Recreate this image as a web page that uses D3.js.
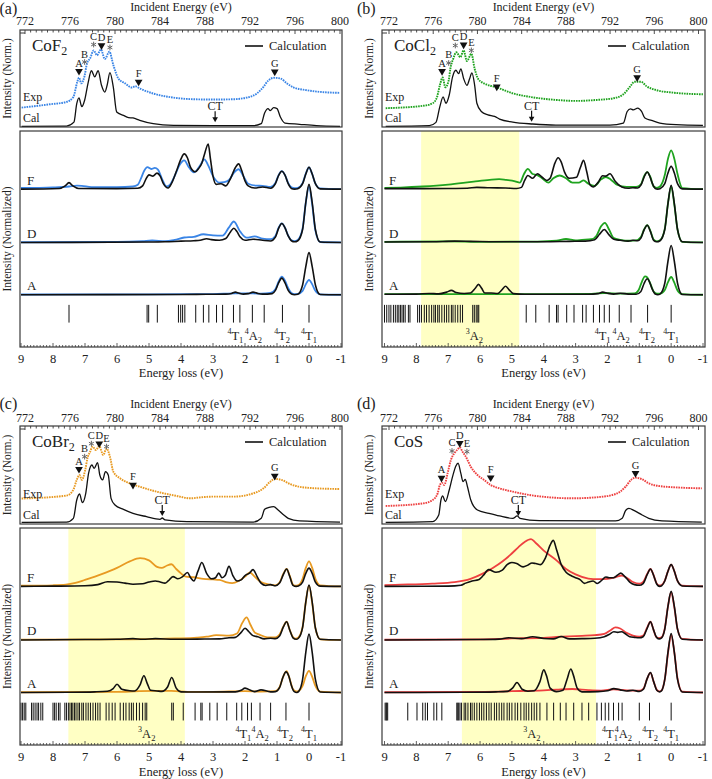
<!DOCTYPE html>
<html><head><meta charset="utf-8">
<script src="https://cdn.jsdelivr.net/npm/d3@7"></script>
<style>
body{margin:0;background:#fff}
svg{display:block}
text{font-family:"Liberation Serif","DejaVu Serif","Times New Roman",serif;fill:#222}
</style>
</head><body>
<svg id="chart" width="712" height="779" font-family="Liberation Serif, DejaVu Serif, serif"></svg>
<script>
// ---------- tick labels ----------
const incidentTicks = [772,776,780,784,788,792,796,800];
const lossTicks = [9,8,7,6,5,4,3,2,1,0,-1];

// ---------- (a) CoF2 ----------
const aTopExp = [[771.7,20],[774.2,23.4],[775.7,25.9],[776.3,31],[776.65,46.6],[776.8,51],[777.0,45],[777.3,53],[777.5,65],[777.8,71],[778.1,79],[778.4,74],[778.75,80],[779.1,70],[779.5,77.6],[779.85,64],[780.3,50],[780.9,45],[781.5,40.7],[781.8,42],[782.2,39.7],[783.4,34.5],[785.2,30.3],[787,28.6],[788.7,28.3],[790.5,28.6],[791.7,30.3],[792.6,34.5],[793.2,41.4],[793.6,47.6],[794.1,50.7],[794.7,50],[795.3,44.8],[795.9,40.7],[797,38],[798.2,36.2],[800,35.2]];
const aTopCal = [[771.7,0.7],[775.7,1],[776.35,5],[776.6,24],[776.8,30],[777.05,21],[777.3,27.6],[777.6,45],[777.9,58],[778.2,51.7],[778.5,58],[778.8,43],[779.1,36],[779.3,43],[779.55,56],[779.85,41],[780.15,15.5],[780.75,12],[781.2,9.7],[781.6,9.3],[782.2,6.9],[783.4,3.4],[785.2,1.7],[788.7,1.4],[792.3,1.4],[793,3.4],[793.3,14.5],[793.6,19],[793.8,17],[794.1,20],[794.4,19],[794.7,10.3],[795.1,4.1],[796.4,2.8],[797.9,1.4],[800,0.7]];
const aMarkers = [{l:'A',e:776.8,v:57.6,t:'tri'},{l:'B',e:777.3,v:67,t:'star'},{l:'C',e:778.1,v:85,t:'star'},{l:'D',e:778.8,v:84,t:'tri'},{l:'E',e:779.55,v:82,t:'star'},{l:'F',e:782.1,v:46.5,t:'tri'},{l:'G',e:794.2,v:57,t:'tri'}];
const aCT = [788.9,5];
const aAcal = [[-1,0],[-0.35,0.1],[-0.2,4.5],[-0.1,13],[0,19.5],[0.1,13],[0.2,4.5],[0.35,0.2],[0.45,0],[0.55,0.3],[0.65,2],[0.75,5.5],[0.85,7.7],[0.95,5.5],[1.05,2],[1.15,0.5],[1.3,0.3],[1.45,0.3],[1.6,0.6],[1.75,1.2],[1.9,0.5],[2.05,0.3],[2.2,0.8],[2.3,1.2],[2.42,0.6],[2.6,0.3],[3.2,0.2],[4,0.1],[9,0]];
const aAexp = [[-1,0],[-0.35,0.2],[-0.2,1.8],[-0.1,4.8],[0,6.9],[0.1,4.8],[0.2,1.8],[0.35,0.4],[0.45,0.3],[0.55,0.8],[0.65,3],[0.75,6.5],[0.85,8.4],[0.95,6],[1.05,2.5],[1.2,0.8],[1.5,0.5],[1.75,0.6],[2.3,0.6],[3,0.3],[5,0.2],[9,0.1]];
const aDcal = [[-1,0],[-0.35,0.2],[-0.2,6],[-0.1,18.5],[0,26.9],[0.1,18.5],[0.2,6],[0.35,0.8],[0.45,0.3],[0.55,0.8],[0.65,3],[0.75,6.8],[0.85,8.8],[0.95,6.5],[1.05,2.5],[1.2,0.7],[1.45,1],[1.75,1.5],[2.0,1],[2.15,2.5],[2.25,5],[2.35,6.6],[2.45,5],[2.6,1.8],[2.8,1],[3.05,1.3],[3.2,1.7],[3.4,1],[3.6,0.8],[4.0,0.6],[4.5,0.3],[5,0.2],[9,0]];
const aDexp = [[-1,0],[-0.35,0.2],[-0.2,5.5],[-0.1,17.5],[0,26],[0.1,18.5],[0.2,6.5],[0.35,1.2],[0.45,0.6],[0.55,1],[0.65,3.2],[0.75,6.8],[0.85,8.8],[0.95,6.8],[1.05,3],[1.2,1.5],[1.45,1.8],[1.7,2.8],[1.95,2.2],[2.15,5],[2.35,9.7],[2.5,7],[2.7,3.2],[3.0,3.3],[3.3,3.8],[3.6,2.6],[3.9,2.3],[4.2,1.2],[4.5,0.6],[4.9,0.9],[5.2,0.6],[6,0.2],[9,0.1]];
const aFcal = [[-1,0],[-0.35,0.1],[-0.2,2.5],[-0.1,7],[0,10.1],[0.1,7],[0.2,2.5],[0.35,0.2],[0.45,0],[0.55,0.3],[0.65,2.5],[0.75,6.5],[0.85,8.3],[0.95,6.3],[1.05,2.5],[1.2,0.4],[1.45,1],[1.7,0.5],[1.9,1.5],[2.0,3.8],[2.1,8.5],[2.2,11.7],[2.3,10],[2.45,5],[2.6,1.5],[2.75,2.5],[2.9,2.2],[3.0,6],[3.08,14],[3.15,20.9],[3.25,17],[3.35,12],[3.45,9.5],[3.55,8],[3.7,10],[3.8,14.5],[3.9,16.3],[4.0,14],[4.15,8],[4.3,2.5],[4.4,0.5],[4.55,2.5],[4.65,6],[4.75,7.4],[4.88,6],[5.0,6.6],[5.1,4.5],[5.2,1.5],[5.35,0.4],[6,0.2],[7.2,0.3],[7.38,1.5],[7.5,3],[7.62,1.5],[7.8,0.3],[9,0]];
const aFexp = [[-1,0],[-0.35,0.3],[-0.2,2.5],[-0.1,7],[0,10],[0.1,7.2],[0.2,2.8],[0.35,0.6],[0.45,0.4],[0.55,0.8],[0.65,2.8],[0.75,6.5],[0.85,8.3],[0.95,6.5],[1.05,2.8],[1.2,1],[1.45,1.5],[1.65,1.6],[1.9,2.5],[2.05,6],[2.2,9.2],[2.35,7.5],[2.5,4.2],[2.65,3.2],[2.8,3],[3.0,6],[3.15,11],[3.27,13.8],[3.4,11],[3.6,7.7],[3.75,10],[3.9,13.3],[4.05,11],[4.2,6],[4.35,2],[4.45,1.2],[4.6,5],[4.72,9],[4.82,9.8],[4.93,9.3],[5.05,10.2],[5.15,8.5],[5.25,5],[5.35,2],[5.5,1.2],[6,0.9],[6.8,0.9],[7.1,1.5],[7.25,1.6],[7.5,1.2],[8,0.8],[9,0.5]];
const aSticks = [7.5,5.06,5.01,4.74,4.08,4.01,3.95,3.88,3.54,3.3,3.13,2.89,2.7,2.36,2.16,1.77,1.4,0.83,0];
const aStickLabels = [{s:'4',m:'T',b:'1',x:2.3},{s:'4',m:'A',b:'2',x:1.74},{s:'4',m:'T',b:'2',x:0.84},{s:'4',m:'T',b:'1',x:0}];

// ---------- (b) CoCl2 ----------
const bTopExp = [[771.7,19.4],[775.05,21.8],[775.95,24.5],[776.35,31],[776.6,43],[776.85,51],[777.1,41],[777.4,48],[777.55,60],[777.8,70],[778.1,77],[778.45,72],[778.75,79],[779.05,68],[779.45,75.5],[779.75,60],[780.1,49],[780.8,44],[781.7,41],[783.2,34.7],[785,30.6],[787.1,27.9],[788.9,26.9],[790.8,27.9],[792.3,29.6],[793.2,33.7],[793.8,41.5],[794.2,46.6],[794.8,46.6],[795.3,42],[796.2,38],[797.7,35.4],[800.4,33.7]];
const bTopCal = [[771.7,0.7],[775.65,1.4],[776.25,4.8],[776.6,21],[776.9,31],[777.15,24.5],[777.45,33],[777.75,51.7],[778.05,58.5],[778.3,55],[778.5,60],[778.75,50],[779.05,43],[779.3,50],[779.5,55.8],[779.75,43],[779.95,24.5],[780.35,16],[780.95,12.6],[781.55,10.9],[782,8.2],[783.2,5.1],[785,3.1],[787.1,2],[792,2],[793.2,4.1],[793.55,16],[793.85,18.7],[794.1,17.7],[794.5,19.4],[794.85,16],[795.15,9.2],[795.75,6.8],[796.5,4.1],[798,2.4],[800.4,1.7]];
const bMarkers = [{l:'A',e:776.8,v:57.5,t:'tri'},{l:'B',e:777.4,v:66,t:'star'},{l:'C',e:778.0,v:84,t:'star'},{l:'D',e:778.75,v:84.7,t:'tri'},{l:'E',e:779.45,v:79,t:'star'},{l:'F',e:781.75,v:41.5,t:'tri'},{l:'G',e:794.45,v:51,t:'tri'}];
const bCT = [784.9,5.5];
const bAcal = [[-1,0],[-0.35,0.1],[-0.2,5.3],[-0.1,15.5],[0,22.8],[0.1,15.5],[0.2,5.3],[0.35,0.3],[0.42,0],[0.5,0.3],[0.6,2.8],[0.68,6],[0.75,7.4],[0.85,5.2],[0.95,1.5],[1.1,0.2],[1.35,0.3],[1.6,0.7],[1.8,0.3],[2.0,0.7],[2.15,1.2],[2.3,0.5],[2.6,0.2],[4.6,0.2],[4.95,0.5],[5.1,2.5],[5.2,3.9],[5.3,2.5],[5.45,0.6],[5.65,0.8],[5.85,0.8],[5.95,3],[6.05,4.8],[6.15,3],[6.3,0.8],[6.5,0.6],[6.75,1],[6.9,2],[7.05,1.2],[7.3,0.4],[7.6,0.6],[8,0.3],[9,0.2]];
const bAexp = [[-1,0],[-0.35,0.3],[-0.2,2],[-0.1,5.6],[0,8.2],[0.1,5.8],[0.2,2.2],[0.35,0.5],[0.45,0.5],[0.55,1.5],[0.65,5],[0.75,8],[0.82,8.5],[0.92,6],[1.02,2.2],[1.15,0.6],[1.6,0.5],[2.1,0.8],[2.5,0.4],[4,0.3],[9,0.3]];
const bDcal = [[-1,0],[-0.35,0.3],[-0.2,6],[-0.1,18],[0,26.5],[0.1,18],[0.2,6],[0.35,0.8],[0.45,0.3],[0.55,1],[0.65,5],[0.75,8],[0.85,5.8],[0.95,2],[1.05,0.8],[1.2,1],[1.35,0.6],[1.6,1],[1.8,1.5],[1.95,3.5],[2.1,6],[2.25,3.8],[2.4,1.3],[2.7,0.6],[3.2,0.5],[4,0.3],[5.5,0.3],[6.3,0.5],[6.8,0.6],[7.5,0.3],[9,0.2]];
const bDexp = [[-1,0],[-0.35,0.3],[-0.2,6],[-0.1,17.5],[0,26],[0.1,18],[0.2,6.3],[0.35,1],[0.45,0.5],[0.55,1.3],[0.65,5.3],[0.75,8],[0.85,6],[0.95,2.5],[1.1,1],[1.3,0.8],[1.6,1.2],[1.8,2],[1.95,6],[2.08,9.1],[2.2,7.5],[2.35,3],[2.5,1.5],[2.8,1.2],[3.0,1],[3.3,1.6],[3.6,0.8],[4.2,0.4],[6,0.3],[7,0.5],[9,0.3]];
const bFcal = [[-1,0],[-0.35,0.1],[-0.2,2.5],[-0.1,7.5],[0,10.5],[0.1,7.5],[0.2,2.5],[0.35,0.2],[0.42,0],[0.5,0.3],[0.6,3],[0.68,6.3],[0.75,7.9],[0.85,5.5],[0.95,1.8],[1.05,0.5],[1.2,0.6],[1.35,0.4],[1.55,1],[1.75,3.5],[1.92,7.1],[2.05,6],[2.15,6.2],[2.3,3],[2.45,1],[2.55,2],[2.65,8],[2.75,13.3],[2.85,10],[2.97,5.5],[3.2,5],[3.35,8],[3.45,12.5],[3.55,14.5],[3.65,12],[3.8,5],[3.9,4],[4.05,5.5],[4.2,7.1],[4.35,5],[4.5,6.3],[4.6,4],[4.7,0.8],[4.85,0.3],[5.2,0.5],[5.7,0.6],[6.1,0.8],[6.4,0.4],[7,0.3],[9,0.2]];
const bFexp = [[-1,0],[-0.35,0.5],[-0.2,7],[-0.1,14],[0,17.9],[0.1,14],[0.2,6.5],[0.35,1.2],[0.45,0.6],[0.55,1.2],[0.65,5.5],[0.75,7.9],[0.85,6],[0.95,2.2],[1.1,1],[1.4,1],[1.7,2],[1.9,4.5],[2.05,5.6],[2.2,4.5],[2.4,1.5],[2.6,2.5],[2.75,4],[2.9,3],[3.1,3],[3.3,5],[3.5,6.3],[3.7,5],[3.85,3],[4.05,5],[4.2,6.5],[4.35,7],[4.5,9.4],[4.62,7],[4.75,3],[4.9,3.6],[5.2,4.3],[5.4,4.6],[5.7,4.3],[6.2,3.5],[7,2.1],[7.8,1.2],[8.5,0.7],[9,0.5]];
const bSticks = [9.0,8.93,8.86,8.8,8.72,8.66,8.6,8.55,8.5,8.45,8.4,8.35,8.25,8.2,7.96,7.9,7.84,7.75,7.68,7.6,7.52,7.45,7.4,7.33,7.28,7.2,7.12,7.05,6.98,6.9,6.85,6.78,6.7,6.62,6.55,6.23,6.18,6.12,6.07,6.04,4.55,4.25,3.83,3.6,3.55,3.28,3.05,2.78,2.67,2.44,2.25,2.1,1.94,1.63,1.26,0.74,0];
const bStickLabels = [{s:'3',m:'A',b:'2',x:6.18},{s:'4',m:'T',b:'1',x:2.15},{s:'4',m:'A',b:'2',x:1.57},{s:'4',m:'T',b:'2',x:0.76},{s:'4',m:'T',b:'1',x:0}];
const bShade = [4.77,7.85];

// ---------- (c) CoBr2 ----------
const cTopExp = [[771.7,26],[775.7,29],[776.3,35],[776.6,45],[776.85,50],[777.05,45],[777.35,55],[777.55,67],[777.8,74],[778.0,79],[778.3,75.5],[778.6,79.6],[778.95,70.4],[779.25,77],[779.55,68.7],[779.85,53.4],[780.45,46.6],[781.3,41.5],[782.2,38],[783.7,33],[785.5,28.6],[786.7,26.2],[787.6,27.2],[788.7,27.9],[790.5,27.9],[792.3,31.3],[793.2,36.4],[793.8,43.2],[794.2,46],[794.8,45],[795.55,40.8],[796.4,38],[797.9,36.4],[800,35.7]];
const cTopCal = [[771.7,1.7],[775.7,2],[776.3,5.8],[776.6,24.5],[776.85,30.6],[777.1,21.8],[777.4,31.3],[777.65,51.7],[777.95,60.2],[778.15,56.8],[778.45,62.6],[778.65,50],[778.9,45],[779.15,53.4],[779.4,50],[779.65,26.2],[780,19.4],[780.75,15],[781.6,10.9],[782.8,7.5],[784,4.8],[784.2,6.1],[784.45,4.1],[786.4,2.4],[792.3,2],[793,5.8],[793.3,15],[793.7,17],[794.1,17.7],[794.5,14.3],[795,9.2],[795.4,5.8],[796.4,3.1],[800,2]];
const cMarkers = [{l:'A',e:776.8,v:56,t:'tri'},{l:'B',e:777.3,v:68.7,t:'star'},{l:'C',e:777.9,v:82,t:'star'},{l:'D',e:778.6,v:82,t:'tri'},{l:'E',e:779.25,v:79,t:'star'},{l:'F',e:781.6,v:39.8,t:'tri'},{l:'G',e:794.2,v:49,t:'tri'}];
const cCT = [784.2,8.2];
const cAcal = [[-1,0],[-0.35,0.2],[-0.2,6],[-0.1,18.5],[0,26.9],[0.1,18.5],[0.2,6],[0.32,0.5],[0.38,0],[0.47,0.5],[0.55,3.2],[0.63,7.5],[0.72,9.5],[0.82,6.8],[0.92,2.2],[1.05,0.4],[1.2,0.3],[1.5,1.2],[1.7,0.4],[1.9,1.5],[2.0,2],[2.12,1],[2.3,0.3],[3.5,0.2],[4.0,0.3],[4.15,2],[4.29,6.9],[4.42,2.5],[4.6,0.5],[4.75,0.7],[4.95,1],[5.05,4],[5.16,7.7],[5.28,3.5],[5.45,0.7],[5.6,0.8],[5.85,1.5],[6.0,3.8],[6.12,1.8],[6.3,0.6],[6.7,0.3],[7.5,0.1],[9,0]];
const cAexp = [[-1,0],[-0.35,0.4],[-0.2,3],[-0.1,7.2],[0,10],[0.1,7.5],[0.2,3],[0.32,0.8],[0.4,0.5],[0.5,1.5],[0.6,6],[0.7,9.8],[0.8,7.5],[0.92,2.5],[1.05,0.6],[1.5,0.4],[2.0,0.6],[3,0.3],[3.8,0.3],[4.3,0.7],[4.8,0.7],[5.3,0.6],[6,0.3],[9,0.1]];
const cDcal = [[-1,0],[-0.35,0.3],[-0.2,5.5],[-0.1,17.5],[0,25.3],[0.1,17.5],[0.2,5.8],[0.33,0.8],[0.4,0.3],[0.5,1],[0.6,4.5],[0.7,8.4],[0.8,6],[0.92,1.8],[1.05,0.6],[1.2,0.8],[1.4,0.5],[1.6,1.5],[1.75,2],[1.88,3.8],[2.0,5.4],[2.12,3.5],[2.3,1.2],[2.5,1],[2.8,0.5],[3.5,0.4],[4.2,0.3],[4.8,0.6],[5.2,0.3],[5.5,0.6],[6,0.3],[7,0.2],[9,0]];
const cDexp = [[-1,0],[-0.35,0.3],[-0.2,5.5],[-0.1,17],[0,25],[0.1,17.5],[0.2,6],[0.33,1.2],[0.42,0.6],[0.5,1.3],[0.6,4.5],[0.7,8.4],[0.8,6.2],[0.92,2.5],[1.05,1.2],[1.3,1.2],[1.55,2.5],[1.7,3.5],[1.83,7],[1.95,10.4],[2.08,8],[2.25,3],[2.5,2],[2.9,2.2],[3.2,1.5],[3.5,1.1],[4.2,0.7],[5,0.4],[6,0.3],[9,0.2]];
const cFcal = [[-1,0],[-0.35,0.1],[-0.2,2],[-0.1,6],[0,8.4],[0.1,6],[0.2,2],[0.33,0.2],[0.4,0],[0.5,0.5],[0.6,4.5],[0.7,8],[0.8,5.5],[0.92,1.5],[1.05,0.3],[1.2,0.8],[1.35,0.4],[1.5,1.5],[1.62,4.5],[1.75,7.7],[1.87,6],[2.0,5],[2.12,3],[2.25,2.5],[2.38,5],[2.5,9.2],[2.62,5],[2.72,4],[2.82,6.1],[2.92,4],[3.05,3.5],[3.2,6],[3.35,11],[3.47,7],[3.6,2.5],[3.7,4],[3.8,6.4],[3.95,4.5],[4.1,3.5],[4.25,4.5],[4.4,2.5],[4.5,1.5],[4.65,2],[4.8,2.5],[5.0,2],[5.2,1.2],[5.5,1],[5.75,1.5],[6.0,2],[6.3,2.1],[6.6,0.8],[7,0.3],[8,0.1],[9,0]];
const cFexp = [[-1,0],[-0.35,0.5],[-0.2,3.5],[-0.1,8.5],[0,11.5],[0.1,8.5],[0.2,3.5],[0.33,0.6],[0.42,0.3],[0.5,0.8],[0.6,4.8],[0.7,8],[0.8,5.8],[0.92,1.8],[1.05,0.5],[1.3,1],[1.5,2],[1.7,4.5],[1.85,6.4],[2.0,4.5],[2.2,2.5],[2.4,1.5],[2.6,2],[2.8,3],[3.0,3.2],[3.3,3.5],[3.6,4.2],[3.85,4.5],[4.0,6],[4.15,8],[4.3,10.2],[4.45,9.5],[4.6,8.5],[4.75,9],[5.0,12],[5.28,13],[5.6,11.5],[6.0,8.5],[6.5,5.5],[7.0,3],[7.3,1.6],[7.6,0.8],[8,0.5],[9,0.3]];
const cSticks = [9.0,8.95,8.9,8.85,8.67,8.62,8.56,8.5,8.45,8.38,8.32,8.0,7.95,7.9,7.83,7.78,7.63,7.58,7.52,7.47,7.42,7.38,7.33,7.28,7.22,7.17,7.1,7.05,6.97,6.9,6.83,6.75,6.67,6.6,6.53,6.34,6.25,6.15,6.06,5.9,5.8,5.72,5.62,5.55,5.49,5.39,5.3,5.2,5.12,5.07,4.29,4.24,3.93,3.56,3.38,3.34,3.1,2.87,2.57,2.26,2.1,1.92,1.8,1.53,1.2,0.72,0];
const cStickLabels = [{s:'3',m:'A',b:'2',x:5.07},{s:'4',m:'T',b:'1',x:2.05},{s:'4',m:'A',b:'2',x:1.53},{s:'4',m:'T',b:'2',x:0.75},{s:'4',m:'T',b:'1',x:0}];
const cShade = [3.88,7.52];

// ---------- (d) CoS ----------
const dTopExp = [[771.7,18.4],[775.05,21],[775.95,24.5],[776.4,31.3],[776.6,39.8],[776.8,42],[777,39.8],[777.3,51.7],[777.6,65.3],[777.9,72],[778.2,76],[778.4,78.2],[778.65,73.8],[778.95,68.7],[779.4,58.5],[780,50],[780.6,45],[781.2,39.8],[782,36.4],[783.2,33],[784.7,29.6],[786.5,27.2],[788.6,26.2],[790.7,27.2],[792.5,30.6],[793.4,38],[793.9,45],[794.3,47.3],[794.9,45.6],[795.5,41.5],[796.4,38.8],[797.9,37.4],[800.3,36.4]];
const dTopCal = [[771.7,1.7],[775.95,2.4],[776.5,9.2],[776.7,24.5],[776.85,28.6],[777.1,22.8],[777.45,34.7],[777.75,48.3],[778.05,59.2],[778.25,62],[778.5,51.7],[778.7,43.2],[778.9,45.6],[779.1,38],[779.4,24.5],[780,14.3],[781.05,10.9],[782,8.2],[783.2,5.8],[783.6,8.2],[783.85,5.8],[785.6,3.4],[792.5,3.1],[793.1,5.8],[793.4,13.6],[793.7,16],[794.2,13.6],[794.9,9.2],[795.5,5.8],[796.7,3.1],[800.3,2]];
const dMarkers = [{l:'A',e:776.75,v:47,t:'tri'},{l:'C',e:777.7,v:74.5,t:'star'},{l:'D',e:778.4,v:82.3,t:'tri'},{l:'E',e:779.05,v:73.8,t:'star'},{l:'F',e:781.2,v:47.3,t:'tri'},{l:'G',e:794.3,v:51.7,t:'tri'}];
const dCT = [783.7,8.2];
const dAcal = [[-1,0],[-0.35,0.2],[-0.2,6],[-0.1,18.5],[0,27.2],[0.1,18.5],[0.2,6],[0.3,0.8],[0.36,0.3],[0.45,1],[0.55,5],[0.65,9.2],[0.75,6.5],[0.87,1.5],[1.0,0.5],[1.2,1],[1.4,0.7],[1.6,1.2],[1.8,1.8],[2.0,0.8],[2.3,0.4],[2.8,0.3],[2.95,2],[3.07,8],[3.15,10.8],[3.27,6],[3.4,1],[3.6,0.4],[3.8,2],[3.92,8],[4.0,10.4],[4.12,5],[4.3,0.8],[4.5,0.6],[4.68,1.5],[4.84,4.6],[4.98,2],[5.15,0.5],[5.5,0.3],[6.5,0.1],[9,0]];
const dAexp = [[-1,0],[-0.35,0.4],[-0.2,6.5],[-0.1,18.5],[0,26.5],[0.1,18],[0.2,6],[0.3,1],[0.38,0.5],[0.45,1.2],[0.55,5],[0.65,9],[0.75,6.5],[0.87,1.8],[1.0,0.8],[1.4,1],[1.8,1.5],[2.2,0.9],[2.6,1.1],[3.1,1.6],[3.6,1.3],[4.0,1],[5,0.6],[6,0.3],[9,0.1]];
const dDcal = [[-1,0],[-0.35,0.3],[-0.2,5],[-0.1,15.5],[0,22.4],[0.1,15.5],[0.2,5],[0.3,1],[0.38,0.5],[0.47,1.5],[0.56,5],[0.65,8.4],[0.75,5.5],[0.88,1.5],[1.0,1],[1.15,1.2],[1.3,1.5],[1.45,3],[1.55,3.8],[1.68,3.5],[1.8,3.8],[1.95,2.5],[2.1,1.5],[2.4,0.8],[2.8,0.6],[3.2,0.5],[3.45,1.6],[3.7,0.5],[4.0,0.7],[4.35,1.5],[4.7,0.6],[5.1,1],[5.4,0.4],[6,0.2],[9,0]];
const dDexp = [[-1,0],[-0.35,0.5],[-0.2,5],[-0.1,15],[0,22],[0.1,15.5],[0.2,5.3],[0.3,1.2],[0.4,0.8],[0.48,1.6],[0.56,5],[0.65,8.4],[0.75,5.8],[0.88,2],[1.0,1.5],[1.2,2],[1.4,3.3],[1.6,5.3],[1.75,5.8],[1.9,4.5],[2.1,2.8],[2.4,2.2],[2.8,1.9],[3.2,1.7],[3.6,1.4],[4.0,1],[5,0.7],[6,0.3],[9,0.1]];
const dFcal = [[-1,0],[-0.35,0.2],[-0.2,2.5],[-0.1,7],[0,10],[0.1,7],[0.2,2.5],[0.3,0.3],[0.36,0],[0.45,1],[0.55,5],[0.65,8],[0.75,5.5],[0.88,1.3],[1.0,0.5],[1.15,0.8],[1.3,2],[1.45,4.5],[1.58,6.1],[1.7,5],[1.8,4],[1.95,4],[2.05,4.3],[2.2,2.5],[2.32,1.3],[2.45,2.5],[2.6,2],[2.72,1.4],[2.85,3],[3.0,4],[3.15,5],[3.3,6.5],[3.45,10],[3.6,17],[3.7,21.2],[3.8,19],[3.95,13],[4.1,10],[4.25,10.5],[4.37,10.8],[4.5,9.8],[4.65,9],[4.85,10.5],[5.0,11],[5.15,10],[5.3,7.5],[5.5,6.5],[5.73,7.7],[5.9,5],[6.05,3],[6.25,2.5],[6.45,1.5],[6.6,0.5],[7,0.1],[9,0]];
const dFexp = [[-1,0],[-0.35,0.3],[-0.2,2.5],[-0.1,7],[0,10],[0.1,7],[0.2,2.6],[0.3,0.6],[0.38,0.4],[0.46,1.5],[0.56,5.5],[0.65,8],[0.75,5.8],[0.88,2],[1.0,1.2],[1.2,2],[1.4,4],[1.55,5],[1.75,4.2],[2.0,3.5],[2.3,3.3],[2.6,3.6],[3.0,5.5],[3.3,8],[3.6,12],[4.0,16.5],[4.25,20],[4.4,21.8],[4.6,20.5],[4.8,18],[5.05,14.5],[5.3,11.5],[5.6,8.5],[5.9,6],[6.3,3.5],[6.8,2],[7.5,1.3],[8.5,0.8],[9,0.6]];
const dSticks = [8.98,8.95,8.93,8.9,8.27,7.98,7.8,7.72,7.65,7.45,7.36,7.2,6.73,6.7,6.67,6.63,6.58,6.5,6.45,6.38,6.3,6.25,6.18,6.1,6.02,5.95,5.88,5.8,5.72,5.65,5.55,5.48,5.4,5.32,5.25,5.15,5.08,5.0,4.9,4.82,4.72,4.62,4.55,4.47,4.38,4.3,4.22,4.12,3.9,3.69,3.48,3.3,3.06,2.8,2.59,2.33,2.19,2.07,1.96,1.81,1.65,1.54,1.0,0.68,0];
const dStickLabels = [{s:'3',m:'A',b:'2',x:4.37},{s:'4',m:'T',b:'1',x:1.92},{s:'4',m:'A',b:'2',x:1.5},{s:'4',m:'T',b:'2',x:0.66},{s:'4',m:'T',b:'1',x:0}];
const dShade = [2.36,6.57];

// ---------- panel table ----------
const panels = [
  {key:'a',tag:'(a)',comp:'CoF',sub:'2',color:'#3a85e6',col:0,row:0,topExp:aTopExp,topCal:aTopCal,markers:aMarkers,ct:aCT,
   spec:{A:[aAexp,aAcal],D:[aDexp,aDcal],F:[aFexp,aFcal]},sticks:aSticks,stickLabels:aStickLabels,shade:null},
  {key:'b',tag:'(b)',comp:'CoCl',sub:'2',color:'#1fa31f',col:1,row:0,topExp:bTopExp,topCal:bTopCal,markers:bMarkers,ct:bCT,
   spec:{A:[bAexp,bAcal],D:[bDexp,bDcal],F:[bFexp,bFcal]},sticks:bSticks,stickLabels:bStickLabels,shade:bShade},
  {key:'c',tag:'(c)',comp:'CoBr',sub:'2',color:'#e89a22',col:0,row:1,topExp:cTopExp,topCal:cTopCal,markers:cMarkers,ct:cCT,
   spec:{A:[cAexp,cAcal],D:[cDexp,cDcal],F:[cFexp,cFcal]},sticks:cSticks,stickLabels:cStickLabels,shade:cShade},
  {key:'d',tag:'(d)',comp:'CoS',sub:'',color:'#ee4040',col:1,row:1,topExp:dTopExp,topCal:dTopCal,markers:dMarkers,ct:dCT,
   spec:{A:[dAexp,dAcal],D:[dDexp,dDcal],F:[dFexp,dFcal]},sticks:dSticks,stickLabels:dStickLabels,shade:dShade}
];

// ---------- layout ----------
const cols = [
  {fx0:20, fx1:342, loss:[21,341], inc:[25,340], tagX:-0.5},
  {fx0:382, fx1:705, loss:[384.5,703], inc:[389,698.5], tagX:357}
];
const rows = [
  {t0:30, t1:127, b0:131, b1:347, incLab:20.5, incTitle:7, tagY:8, lossLab:359, lossTitle:373},
  {t0:426, t1:524, b0:528, b1:745, incLab:417.5, incTitle:404, tagY:403, lossLab:757, lossTitle:772}
];
const offsets = {A:24.2, D:48.4, F:73.1};

const svg = d3.select('#chart');
const defs = svg.append('defs');
const frameColor = '#3a3a3a';

function drawPanel(p){
  const col = cols[p.col], row = rows[p.row];
  const xi = d3.scaleLinear().domain([772,800]).range(col.inc);
  const xl = d3.scaleLinear().domain([9,-1]).range(col.loss);
  const yt = d3.scaleLinear().domain([0,100]).range([row.t1,row.t0]);
  const yb = d3.scaleLinear().domain([0,100]).range([row.b1,row.b0]);
  const W = col.fx1 - col.fx0;
  const g = svg.append('g');

  defs.append('clipPath').attr('id','ct'+p.key).append('rect')
    .attr('x',col.fx0).attr('y',row.t0).attr('width',W).attr('height',row.t1-row.t0);
  defs.append('clipPath').attr('id','cb'+p.key).append('rect')
    .attr('x',col.fx0).attr('y',row.b0).attr('width',W).attr('height',row.b1-row.b0);

  // ----- top panel -----
  const lineT = d3.line().x(d=>xi(d[0])).y(d=>yt(d[1])).curve(d3.curveMonotoneX);
  const gt = g.append('g').attr('clip-path','url(#ct'+p.key+')');
  gt.append('path').attr('d',lineT(p.topCal)).attr('fill','none').attr('stroke','#111').attr('stroke-width',1.3);
  gt.append('path').attr('d',lineT(p.topExp)).attr('fill','none').attr('stroke',p.color)
    .attr('stroke-width',1.9).attr('stroke-dasharray','1.6 0.9');

  g.append('rect').attr('x',col.fx0).attr('y',row.t0).attr('width',W).attr('height',row.t1-row.t0)
    .attr('fill','none').attr('stroke',frameColor).attr('stroke-width',1.2);
  const incMinor = d3.range(772,800.01,0.5);
  g.append('g').selectAll('line').data(incMinor).join('line')
    .attr('x1',d=>xi(d)).attr('x2',d=>xi(d)).attr('y1',row.t0)
    .attr('y2',d=>row.t0 + (d%4===0?4:2.5)).attr('stroke',frameColor).attr('stroke-width',0.9);
  g.append('line').attr('x1',col.fx0).attr('x2',col.fx0+5).attr('y1',row.t0+3).attr('y2',row.t0+3)
    .attr('stroke',frameColor).attr('stroke-width',1);
  g.append('g').selectAll('text').data(incidentTicks).join('text')
    .attr('x',d=>xi(d)).attr('y',row.incLab).attr('text-anchor','middle').attr('dominant-baseline','central')
    .attr('font-size',12).text(d=>d);
  g.append('text').attr('x',(col.fx0+col.fx1)/2).attr('y',row.incTitle).attr('text-anchor','middle')
    .attr('dominant-baseline','central').attr('font-size',12).text('Incident Energy (eV)');
  g.append('text').attr('x',col.tagX).attr('y',row.tagY).attr('dominant-baseline','central')
    .attr('font-size',16).text(p.tag);
  g.append('text').attr('transform',`translate(${col.fx0-13},${(row.t0+row.t1)/2}) rotate(-90)`)
    .attr('text-anchor','middle').attr('dominant-baseline','central').attr('font-size',11.5).text('Intensity (Norm.)');

  const ct = g.append('text').attr('x',col.fx0+12).attr('y',row.t0+21).attr('font-size',17).text(p.comp);
  if(p.sub) ct.append('tspan').attr('font-size',12).attr('dy',4).text(p.sub);
  g.append('line').attr('x1',col.fx1-97).attr('x2',col.fx1-79).attr('y1',row.t0+16).attr('y2',row.t0+16)
    .attr('stroke','#111').attr('stroke-width',1.6);
  g.append('text').attr('x',col.fx1-73).attr('y',row.t0+16).attr('dominant-baseline','central')
    .attr('font-size',12.5).text('Calculation');
  g.append('text').attr('x',col.fx0+3).attr('y',yt(31)).attr('dominant-baseline','central').attr('font-size',12).text('Exp');
  g.append('text').attr('x',col.fx0+3).attr('y',yt(9)).attr('dominant-baseline','central').attr('font-size',12).text('Cal');

  const tri = d3.symbol().type(d3.symbolTriangle).size(26)();
  const star = d3.symbol().type(d3.symbolAsterisk || d3.symbolCross).size(22)();
  p.markers.forEach(m=>{
    const x = xi(m.e), y = yt(m.v);
    if(m.t==='tri'){
      g.append('path').attr('d',tri).attr('transform',`translate(${x},${y}) rotate(180)`).attr('fill','#111');
    } else {
      g.append('path').attr('d',star).attr('transform',`translate(${x},${y})`).attr('fill','none')
        .attr('stroke','#666').attr('stroke-width',1);
    }
    g.append('text').attr('x',x).attr('y',y-8).attr('text-anchor','middle').attr('dominant-baseline','central')
      .attr('font-size',10.5).attr('fill','#333').text(m.l);
  });
  {
    const x = xi(p.ct[0]), yTip = yt(p.ct[1]);
    g.append('line').attr('x1',x).attr('x2',x).attr('y1',yTip-11).attr('y2',yTip-3).attr('stroke','#111').attr('stroke-width',1.2);
    g.append('path').attr('d',`M${x-2.8},${yTip-5}L${x+2.8},${yTip-5}L${x},${yTip}Z`).attr('fill','#111');
    g.append('text').attr('x',x).attr('y',yTip-16).attr('text-anchor','middle').attr('dominant-baseline','central')
      .attr('font-size',12).text('CT');
  }

  // ----- bottom panel -----
  if(p.shade){
    g.append('rect').attr('x',xl(p.shade[1])).attr('width',xl(p.shade[0])-xl(p.shade[1]))
      .attr('y',row.b0).attr('height',row.b1-row.b0).attr('fill','#ffffc4');
  }
  g.append('g').selectAll('line').data(p.sticks).join('line')
    .attr('x1',d=>xl(d)).attr('x2',d=>xl(d)).attr('y1',yb(19.5)).attr('y2',yb(11.3))
    .attr('stroke','#111').attr('stroke-width',1);
  p.stickLabels.forEach(s=>{
    const t = g.append('text').attr('x',xl(s.x)).attr('y',row.b1-7).attr('text-anchor','middle').attr('font-size',12.5);
    t.append('tspan').attr('font-size',8).attr('dy',-6).text(s.s);
    t.append('tspan').attr('dy',6).text(s.m);
    t.append('tspan').attr('font-size',8.5).attr('dy',3).text(s.b);
  });
  const gb = g.append('g').attr('clip-path','url(#cb'+p.key+')');
  ['A','D','F'].forEach(k=>{
    const off = offsets[k];
    const lineB = d3.line().x(d=>xl(d[0])).y(d=>yb(off+d[1])).curve(d3.curveMonotoneX);
    const [exp,cal] = p.spec[k];
    const sortDesc = a => a.slice().sort((u,v)=>v[0]-u[0]);
    gb.append('path').attr('d',lineB(sortDesc(exp))).attr('fill','none').attr('stroke',p.color).attr('stroke-width',1.8);
    gb.append('path').attr('d',lineB(sortDesc(cal))).attr('fill','none').attr('stroke','#111').attr('stroke-width',1.6);
    g.append('text').attr('x',col.fx0+7).attr('y',yb(off+4.2)).attr('dominant-baseline','central')
      .attr('font-size',13).text(k);
  });
  g.append('rect').attr('x',col.fx0).attr('y',row.b0).attr('width',W).attr('height',row.b1-row.b0)
    .attr('fill','none').attr('stroke',frameColor).attr('stroke-width',1.2);
  const lossMinor = xl.ticks(100);
  g.append('g').selectAll('line').data(lossMinor).join('line')
    .attr('x1',d=>xl(d)).attr('x2',d=>xl(d)).attr('y1',row.b1)
    .attr('y2',d=>row.b1 - (Math.abs(d-Math.round(d))<1e-6?4:2)).attr('stroke',frameColor).attr('stroke-width',0.8);
  g.append('g').selectAll('text').data(lossTicks).join('text')
    .attr('x',d=>xl(d)).attr('y',row.lossLab).attr('text-anchor','middle').attr('dominant-baseline','central')
    .attr('font-size',12.5).text(d=>d);
  g.append('text').attr('x',(col.fx0+col.fx1)/2).attr('y',row.lossTitle).attr('text-anchor','middle')
    .attr('dominant-baseline','central').attr('font-size',12.5).text('Energy loss (eV)');
  g.append('text').attr('transform',`translate(${col.fx0-13},${(row.b0+row.b1)/2}) rotate(-90)`)
    .attr('text-anchor','middle').attr('dominant-baseline','central').attr('font-size',11.5).text('Intensity (Normalized)');
}

panels.forEach(drawPanel);
</script>
</body></html>
